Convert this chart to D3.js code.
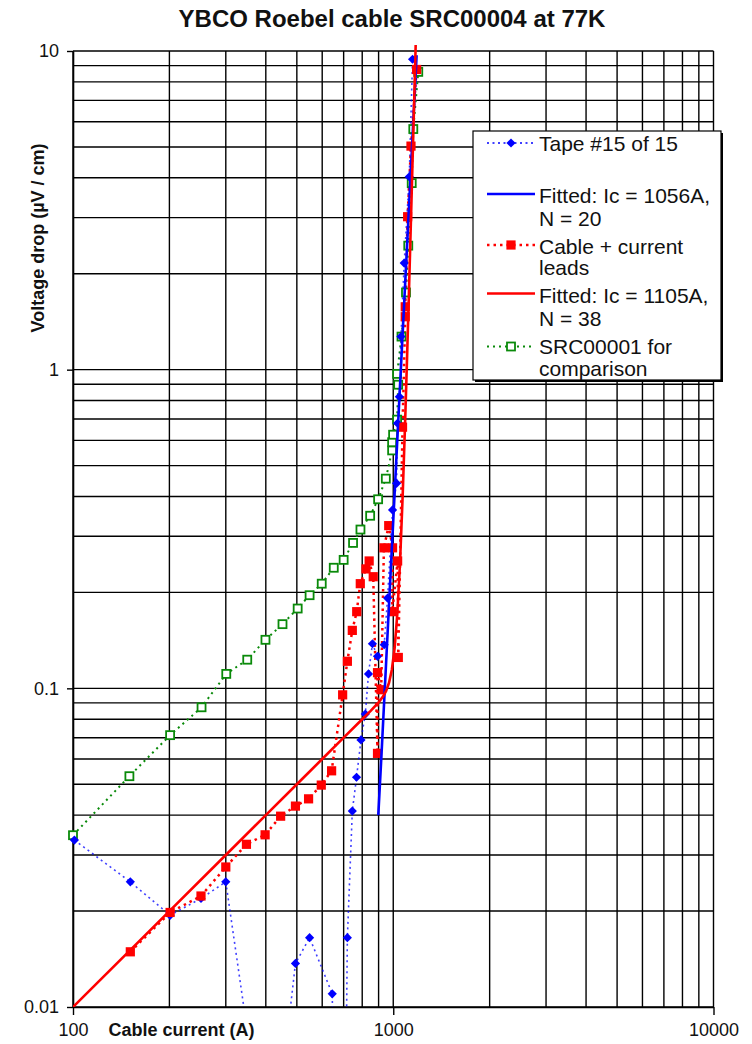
<!DOCTYPE html>
<html><head><meta charset="utf-8">
<script src="https://cdn.jsdelivr.net/npm/d3@7"></script>
<style>body{margin:0;background:#fff}svg{display:block}text{font-family:"Liberation Sans",Arial,sans-serif}</style>
</head><body><svg id="c" width="752" height="1044"></svg>
<script>
// ---- data ----
const xTicks = [100, 1000, 10000];
const yTicks = [0.01, 0.1, 1, 10];
const yTickLabels = ["0.01", "0.1", "1", "10"];

const tapeCurrent = [101,151,201,251,300,412,495,548,645,682,719,745,768,793,818,837,861,893,937,960,995,1024,1031,1045,1057,1082,1122,1149];
const tapeVoltage = [0.0334,0.0247,0.0194,0.0219,0.0247,0.0027,0.0137,0.0165,0.011,0.0001,0.0165,0.0412,0.0526,0.0689,0.083,0.111,0.138,0.126,0.137,0.192,0.363,0.44,0.679,0.822,1.27,2.16,4.03,9.42];

const fitBlueCurrent = [898,920,950,980,1000,1020,1040,1056,1080,1100,1120,1150,1175,1183];
const fitBlueVoltage = [0.040,0.0634,0.1205,0.2245,0.336,0.4996,0.737,1.0,1.567,2.262,3.244,5.505,8.46,9.7];

const cableCurrent = [151,201,251,300,348,398,445,495,544,596,642,695,719,745,769,789,822,841,866,893,893,917,935,968,995,993,1032,1037,1069,1090,1090,1109,1136,1183];
const cableVoltage = [0.0149,0.0198,0.0223,0.0275,0.0324,0.0347,0.0397,0.0427,0.045,0.0497,0.0551,0.0954,0.1216,0.152,0.174,0.213,0.237,0.251,0.224,0.0625,0.112,0.099,0.276,0.324,0.276,0.174,0.251,0.125,0.66,1.466,1.575,3.02,5.03,8.75];

const fitRedCurrent = [100,200,300,400,500,600,700,800,850,900,930,950,970,990,1010,1030,1050,1070,1090,1105,1120,1140,1160,1175];
const fitRedVoltage = [0.01,0.02,0.03,0.04,0.05,0.06,0.07,0.08,0.085,0.0904,0.0944,0.0982,0.1041,0.1144,0.1338,0.1722,0.2487,0.4013,0.704,1.1105,1.781,3.384,6.45,10.44];

const greenCurrent = [100,150,201,252,301,350,399,451,503,548,598,652,700,749,790,847,897,948,992,992,999,1028,1036,1028,1061,1096,1114,1142,1155,1197];
const greenVoltage = [0.0346,0.053,0.0713,0.0872,0.111,0.123,0.142,0.159,0.178,0.196,0.213,0.239,0.253,0.286,0.315,0.348,0.392,0.455,0.558,0.592,0.625,0.697,0.897,0.970,1.27,1.747,2.45,3.85,5.69,8.6];

const legendLabels = [["Tape #15 of 15"],["Fitted: Ic = 1056A,","N = 20"],["Cable + current","leads"],["Fitted: Ic = 1105A,","N = 38"],["SRC00001 for","comparison"]];

// ---- drawing ----
const svg = d3.select("#c");
const L = 73, R = 713.5, T = 51, B = 1007;
const x = d3.scaleLog().domain([100, 10000]).range([L, R]);
const y = d3.scaleLog().domain([0.01, 10]).range([B, T]);
const FONT = '"Liberation Sans",Arial,sans-serif';
const BLUE = "#0000ff", RED = "#ff0000", GREEN = "#0a8a0a";

svg.append("rect").attr("width",752).attr("height",1044).attr("fill","#fff");

// gridlines
const g = svg.append("g");
const xg = [], yg = [];
for (let e = 2; e <= 3; e++) for (let k = 1; k <= 9; k++) xg.push(k * Math.pow(10, e));
xg.push(10000);
for (let e = -2; e <= 0; e++) for (let k = 1; k <= 9; k++) yg.push(+(k * Math.pow(10, e)).toPrecision(3));
yg.push(10);
g.selectAll(".vx").data(xg).enter().append("line")
  .attr("x1", d => x(d)).attr("x2", d => x(d)).attr("y1", T).attr("y2", B)
  .attr("stroke", "#000").attr("stroke-width", 1.4);
g.selectAll(".hy").data(yg).enter().append("line")
  .attr("x1", L).attr("x2", R).attr("y1", d => y(d)).attr("y2", d => y(d))
  .attr("stroke", "#000").attr("stroke-width", 1.4);

// axes
const xAxis = d3.axisBottom(x).tickValues(xTicks).tickFormat(d3.format("d")).tickSize(8).tickSizeOuter(0).tickPadding(8);
const ax = svg.append("g").attr("transform", `translate(0,${B})`).call(xAxis);
const yAxis = d3.axisLeft(y).tickValues(yTicks).tickFormat((d, i) => yTickLabels[i]).tickSize(6).tickSizeOuter(0).tickPadding(8);
const ay = svg.append("g").attr("transform", `translate(${L},0)`).call(yAxis);
[ax, ay].forEach(a => {
  a.selectAll("path.domain").attr("stroke", "#000").attr("stroke-width", 1.6);
  a.selectAll(".tick line").attr("stroke", "#000").attr("stroke-width", 1.4);
  a.selectAll("text").attr("font-size", 18).attr("font-family", FONT).attr("fill", "#111");
});

// clip
svg.append("clipPath").attr("id", "clip").append("rect").attr("x", L).attr("y", 40).attr("width", R - L).attr("height", B - 40);

const line = d3.line().x(d => x(d[0])).y(d => y(d[1]));
const zip = (a, b) => a.map((v, i) => [v, b[i]]);
const data = svg.append("g");
const lines = data.append("g").attr("clip-path", "url(#clip)");

const greenPts = zip(greenCurrent, greenVoltage);
const tapePts = zip(tapeCurrent, tapeVoltage);
const cablePts = zip(cableCurrent, cableVoltage);

lines.append("path").attr("d", line(greenPts)).attr("fill", "none").attr("stroke", GREEN).attr("stroke-width", 2).attr("stroke-dasharray", "2,4");
lines.append("path").attr("d", line(tapePts)).attr("fill", "none").attr("stroke", BLUE).attr("stroke-width", 1.6).attr("stroke-dasharray", "2,3.5").attr("opacity", 0.75);
lines.append("path").attr("d", line(cablePts)).attr("fill", "none").attr("stroke", RED).attr("stroke-width", 2.5).attr("stroke-dasharray", "2.5,4");

const inRange = d => d[1] >= 0.0099 && d[1] <= 10.5;
const diamond = r => `M0,${-r}L${r},0L0,${r}L${-r},0Z`;

function greenMarker(sel) { sel.append("rect").attr("x", -4).attr("y", -4).attr("width", 8).attr("height", 8).attr("fill", "#fff").attr("stroke", GREEN).attr("stroke-width", 1.8); }
function blueMarker(sel) { sel.append("path").attr("d", diamond(4.6)).attr("fill", BLUE); }
function redMarker(sel) { sel.append("rect").attr("x", -4.6).attr("y", -4.6).attr("width", 9.2).attr("height", 9.2).attr("fill", RED); }

data.selectAll(".gm").data(greenPts.filter(inRange)).enter().append("g")
  .attr("transform", d => `translate(${x(d[0])},${y(d[1])})`).call(greenMarker);
data.selectAll(".bm").data(tapePts.filter(inRange)).enter().append("g")
  .attr("transform", d => `translate(${x(d[0])},${y(d[1])})`).call(blueMarker);
data.selectAll(".rm").data(cablePts.filter(inRange)).enter().append("g")
  .attr("transform", d => `translate(${x(d[0])},${y(d[1])})`).call(redMarker);

const fits = data.append("g").attr("clip-path", "url(#clip)");
fits.append("path").attr("d", line(zip(fitBlueCurrent, fitBlueVoltage))).attr("fill", "none").attr("stroke", BLUE).attr("stroke-width", 2.6);
fits.append("path").attr("d", line(zip(fitRedCurrent, fitRedVoltage))).attr("fill", "none").attr("stroke", RED).attr("stroke-width", 2.6);

// title & axis titles
svg.append("text").attr("x", 392).attr("y", 27).attr("text-anchor", "middle").attr("font-size", 24).attr("font-weight", "bold").attr("fill", "#111").text("YBCO Roebel cable SRC00004 at 77K");
svg.append("text").attr("transform", "translate(38,238) rotate(-90)").attr("text-anchor", "middle").attr("dominant-baseline", "central").attr("font-size", 18).attr("font-weight", "bold").attr("fill", "#111").text("Voltage drop (µV / cm)");
svg.append("text").attr("x", 108.5).attr("y", 1036).attr("font-size", 18).attr("font-weight", "bold").attr("fill", "#111").text("Cable current (A)");

// legend
const lg = svg.append("g");
lg.append("rect").attr("x", 475).attr("y", 133).attr("width", 248).attr("height", 249).attr("fill", "#000");
lg.append("rect").attr("x", 473).attr("y", 131).attr("width", 248).attr("height", 249).attr("fill", "#fff").attr("stroke", "#000").attr("stroke-width", 1.2);
const symY = [143, 194, 245, 293.5, 346.5];
const txtY = [[143], [195, 218.5], [246, 267.5], [295, 318.5], [346.5, 368.5]];
const styles = [
  {c: BLUE, w: 1.6, dash: "2,3.5", m: blueMarker},
  {c: BLUE, w: 2.6, dash: null, m: null},
  {c: RED, w: 2.5, dash: "2.5,4", m: redMarker},
  {c: RED, w: 2.6, dash: null, m: null},
  {c: GREEN, w: 2, dash: "2,4", m: greenMarker}
];
styles.forEach((s, i) => {
  const ln = lg.append("line").attr("x1", 487).attr("x2", 535).attr("y1", symY[i]).attr("y2", symY[i]).attr("stroke", s.c).attr("stroke-width", s.w);
  if (s.dash) ln.attr("stroke-dasharray", s.dash);
  if (s.m) lg.append("g").attr("transform", `translate(511,${symY[i]})`).call(s.m);
  legendLabels[i].forEach((t, j) => {
    lg.append("text").attr("x", 539).attr("y", txtY[i][j]).attr("dominant-baseline", "central").attr("font-size", 21).attr("fill", "#111").text(t);
  });
});
</script></body></html>
